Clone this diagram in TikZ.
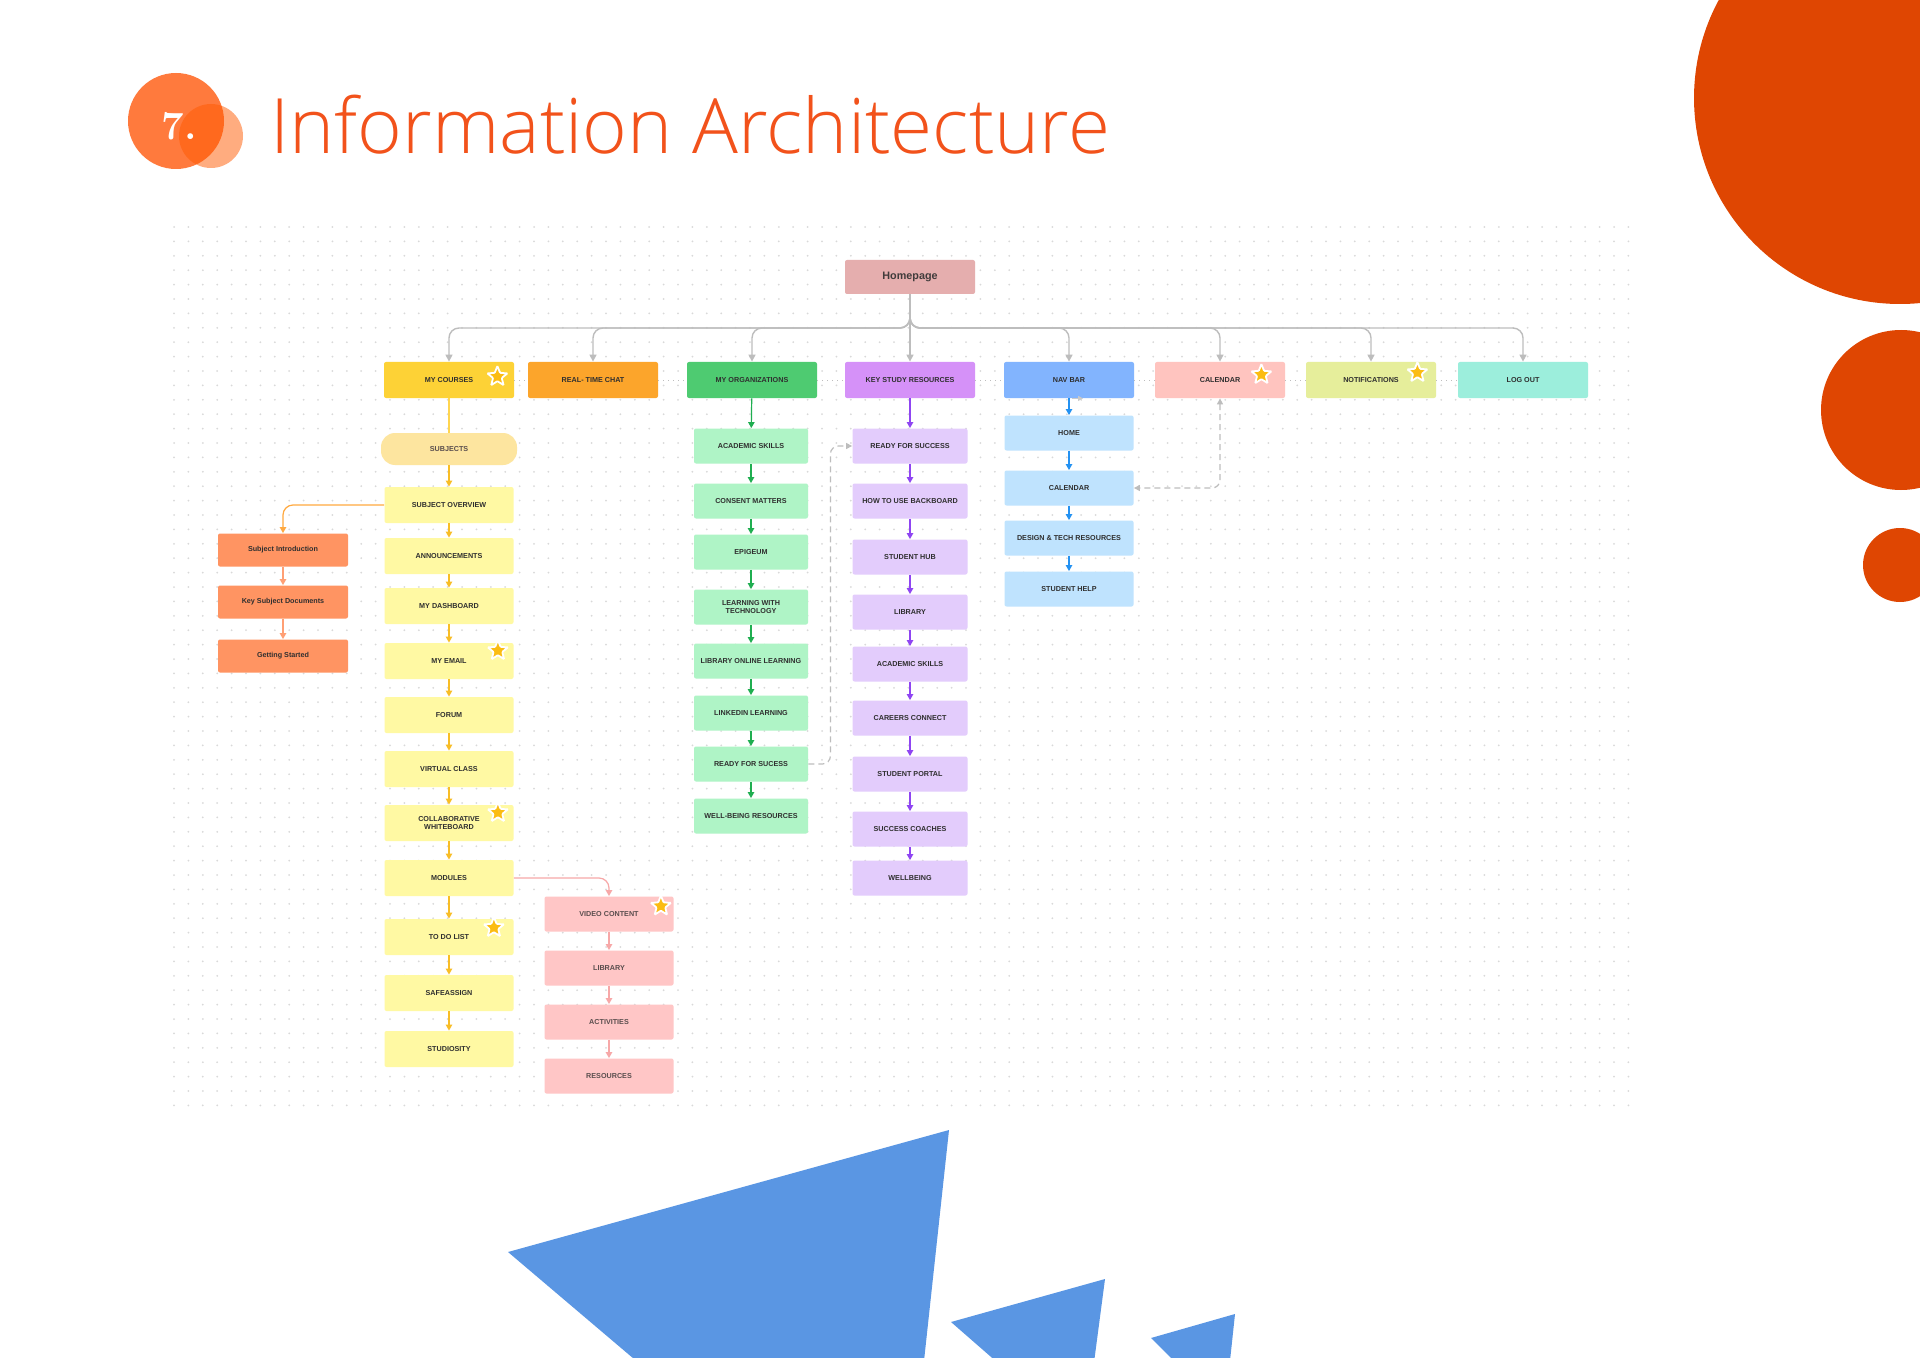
\documentclass[tikz,border=0pt]{standalone}
\usepackage{fontspec}
\newfontfamily\uifont{Liberation Sans}
\newfontfamily\titlefont{Open Sans Light}
\usetikzlibrary{arrows.meta,calc,shapes.geometric}
\definecolor{TitleOrange}{HTML}{F2521B}
\definecolor{BadgeOrange}{HTML}{FF7A3D}
\definecolor{BadgeDeep}{HTML}{FF5A00}
\definecolor{BlobRed}{HTML}{DF4602}
\definecolor{SailBlue}{HTML}{5A96E3}
\definecolor{BoardDot}{HTML}{D9D9D9}
\definecolor{Ink}{HTML}{2F2F2F}
\definecolor{SoftInk}{HTML}{5A4E4E}
\definecolor{LinkGrey}{HTML}{BDBDBD}
\definecolor{HomeRose}{HTML}{E5AEAE}
\definecolor{CourseGold}{HTML}{FDD236}
\definecolor{ChatOrange}{HTML}{FCA52B}
\definecolor{OrgGreen}{HTML}{4ECB71}
\definecolor{StudyViolet}{HTML}{D591F8}
\definecolor{NavBlue}{HTML}{82B4FE}
\definecolor{CalPink}{HTML}{FFC4BF}
\definecolor{NotifLime}{HTML}{E6EE9B}
\definecolor{LogoutMint}{HTML}{9CEEDC}
\definecolor{SubjectSand}{HTML}{FDE59F}
\definecolor{PaleYellow}{HTML}{FFF9A3}
\definecolor{Salmon}{HTML}{FF9462}
\definecolor{PalePink}{HTML}{FFC6C6}
\definecolor{PaleMint}{HTML}{AFF4C6}
\definecolor{PaleLavender}{HTML}{E3CCFC}
\definecolor{PaleSky}{HTML}{BFE3FE}
\definecolor{StarGold}{HTML}{FBBC12}
\definecolor{ArrowGold}{HTML}{F8BD26}
\definecolor{ArrowSalmon}{HTML}{FF9F74}
\definecolor{ArrowPink}{HTML}{F7A8A8}
\definecolor{ArrowGreen}{HTML}{1FAE50}
\definecolor{ArrowViolet}{HTML}{8F45F2}
\definecolor{ArrowBlue}{HTML}{2492F2}
\definecolor{LineGold}{HTML}{FFD54F}
\definecolor{LineOrange}{HTML}{FFA940}
\newcommand{\boxfont}{\uifont\bfseries\fontsize{3.6}{4.3}\selectfont}

\begin{document}
\begin{tikzpicture}[x=0.5pt,y=-0.5pt,
    box/.style={rounded corners=1pt,minimum height=17.5pt,inner sep=1pt,
      align=center,font=\boxfont,text=Ink},
    topbox/.style={box,minimum width=65pt,minimum height=18pt},
    coursebox/.style={box,fill=PaleYellow,minimum width=64.5pt,minimum height=18pt},
    introbox/.style={box,fill=Salmon,minimum width=65pt,minimum height=16.5pt},
    modbox/.style={box,fill=PalePink,minimum width=64.5pt,text=SoftInk},
    orgbox/.style={box,fill=PaleMint,minimum width=57pt},
    studybox/.style={box,fill=PaleLavender,minimum width=57.5pt},
    navbox/.style={box,fill=PaleSky,minimum width=64.5pt},
    favstar/.style={star,star points=5,star point ratio=2.3,fill=StarGold,draw=white,
      line width=0.9pt,minimum size=10.5pt,inner sep=0pt,rounded corners=0.4pt},
    tree/.style={draw=LinkGrey,line width=0.7pt,rounded corners=5pt,
      -{Triangle[length=3.5pt,width=3.5pt]}},
    rowlink/.style={draw=LinkGrey,line width=0.5pt,dotted},
    dashlink/.style={draw=LinkGrey,line width=0.6pt,dash pattern=on 3pt off 2pt,
      rounded corners=4pt,-{Triangle[length=3pt,width=3pt]}},
    colarrow/.style={line width=0.6pt,-{Triangle[length=3pt,width=3.2pt]}},
    boarddots/.style={draw=BoardDot,line width=1pt,line cap=round,
      dash pattern=on 0pt off 7.2pt}]
  \useasboundingbox (0,0) rectangle (1920,1358);
  \clip (0,0) rectangle (1920,1358);
  \fill[white] (0,0) rectangle (1920,1358);

  % dotted board
  \foreach \r in {0,...,61}
    \draw[boarddots] (174,{227+14.4*\r}) -- (1640,{227+14.4*\r});

  % page decoration
  \fill[BlobRed] (1900,98) circle [radius=103pt];
  \fill[BlobRed] (1901,410) circle [radius=40pt];
  \fill[BlobRed] (1900,565) circle [radius=18.5pt];
  \fill[SailBlue] (508,1252) -- (949,1130) -- (923,1370) -- (647,1370) -- cycle;
  \fill[SailBlue] (951,1322) -- (1105,1279) -- (1093,1370) -- (1006,1370) -- cycle;
  \fill[SailBlue] (1151,1338) -- (1235,1314) -- (1229,1370) -- (1183,1370) -- cycle;

  % heading
  \fill[BadgeOrange] (176,121) circle [radius=24pt];
  \fill[BadgeDeep,fill opacity=0.5] (211,136) circle [radius=16pt];
  \node[font=\rmfamily\bfseries\fontsize{20}{24}\selectfont,text=white] (badge) at (179,126) {7.};
  \node[anchor=base west,inner sep=0pt,text=TitleOrange,
    font=\titlefont\fontsize{38.2}{42}\selectfont] (title) at (270,154) {Information Architecture};

  % top level
  \node[box,fill=HomeRose,minimum width=65pt,minimum height=17pt,text=Ink!90!HomeRose,
    font=\uifont\bfseries\fontsize{5.4}{6}\selectfont] (home) at (910,277) {Homepage};
  \node[topbox,fill=CourseGold] (courses) at (449,380) {MY COURSES};
  \node[topbox,fill=ChatOrange] (chat) at (593,380) {REAL- TIME CHAT};
  \node[topbox,fill=OrgGreen] (org) at (752,380) {MY ORGANIZATIONS};
  \node[topbox,fill=StudyViolet] (study) at (910,380) {KEY STUDY RESOURCES};
  \node[topbox,fill=NavBlue] (navbar) at (1069,380) {NAV BAR};
  \node[topbox,fill=CalPink] (cal) at (1220,380) {CALENDAR};
  \node[topbox,fill=NotifLime] (notif) at (1371,380) {NOTIFICATIONS};
  \node[topbox,fill=LogoutMint] (logout) at (1523,380) {LOG OUT};

  % my courses
  \node[box,fill=SubjectSand,minimum width=68pt,minimum height=16pt,rounded corners=7pt,
    text=SoftInk] (subjects) at (449,449) {SUBJECTS};
  \node[coursebox] (overview) at (449,505) {SUBJECT OVERVIEW};
  \node[coursebox] (announce) at (449,556) {ANNOUNCEMENTS};
  \node[coursebox] (dashboard) at (449,606) {MY DASHBOARD};
  \node[coursebox] (email) at (449,661) {MY EMAIL};
  \node[coursebox] (forum) at (449,715) {FORUM};
  \node[coursebox] (virtual) at (449,769) {VIRTUAL CLASS};
  \node[coursebox] (collab) at (449,823) {COLLABORATIVE\\WHITEBOARD};
  \node[coursebox] (modules) at (449,878) {MODULES};
  \node[coursebox] (todo) at (449,937) {TO DO LIST};
  \node[coursebox] (safeassign) at (449,993) {SAFEASSIGN};
  \node[coursebox] (studiosity) at (449,1049) {STUDIOSITY};
  \node[introbox] (intro) at (283,550) {Subject Introduction};
  \node[introbox] (keydocs) at (283,602) {Key Subject Documents};
  \node[introbox] (started) at (283,656) {Getting Started};
  \node[modbox] (video) at (609,914) {VIDEO CONTENT};
  \node[modbox] (library) at (609,968) {LIBRARY};
  \node[modbox] (activities) at (609,1022) {ACTIVITIES};
  \node[modbox] (resources) at (609,1076) {RESOURCES};

  % my organizations
  \node[orgbox] (oacad) at (751,446) {ACADEMIC SKILLS};
  \node[orgbox] (consent) at (751,501) {CONSENT MATTERS};
  \node[orgbox] (epigeum) at (751,552) {EPIGEUM};
  \node[orgbox] (learntech) at (751,607) {LEARNING WITH\\TECHNOLOGY};
  \node[orgbox] (libonline) at (751,661) {LIBRARY ONLINE LEARNING};
  \node[orgbox] (linkedin) at (751,713) {LINKEDIN LEARNING};
  \node[orgbox] (oready) at (751,764) {READY FOR SUCESS};
  \node[orgbox] (wellres) at (751,816) {WELL-BEING RESOURCES};

  % key study resources
  \node[studybox] (sready) at (910,446) {READY FOR SUCCESS};
  \node[studybox] (backboard) at (910,501) {HOW TO USE BACKBOARD};
  \node[studybox] (hub) at (910,557) {STUDENT HUB};
  \node[studybox] (slibrary) at (910,612) {LIBRARY};
  \node[studybox] (sacad) at (910,664) {ACADEMIC SKILLS};
  \node[studybox] (careers) at (910,718) {CAREERS CONNECT};
  \node[studybox] (portal) at (910,774) {STUDENT PORTAL};
  \node[studybox] (coaches) at (910,829) {SUCCESS COACHES};
  \node[studybox] (wellbeing) at (910,878) {WELLBEING};

  % nav bar
  \node[navbox] (navhome) at (1069,433) {HOME};
  \node[navbox] (ncal) at (1069,488) {CALENDAR};
  \node[navbox] (design) at (1069,538) {DESIGN \& TECH RESOURCES};
  \node[navbox] (help) at (1069,589) {STUDENT HELP};

  % homepage tree
  \coordinate (bus) at (910,328);
  \foreach \k in {courses,chat,org,navbar,cal,notif,logout}
    \draw[tree] (home.south) -- (bus) -| (\k.north);
  \draw[tree] (home) -- (study);
  \foreach \p/\q in {courses/chat,chat/org,org/study,study/navbar,navbar/cal,cal/notif,notif/logout}
    \draw[rowlink] (\p) -- (\q);

  % columns
  \draw[LineGold,line width=0.7pt] (courses) -- (subjects);
  \foreach \p/\q in {subjects/overview,overview/announce,announce/dashboard,dashboard/email,
      email/forum,forum/virtual,virtual/collab,collab/modules,modules/todo,todo/safeassign,
      safeassign/studiosity}
    \draw[colarrow,ArrowGold] (\p) -- (\q);
  \draw[colarrow,LineOrange,rounded corners=5pt] (overview.west) -| (intro.north);
  \draw[colarrow,ArrowSalmon] (intro) -- (keydocs);
  \draw[colarrow,ArrowSalmon] (keydocs) -- (started);
  \draw[colarrow,ArrowPink,rounded corners=5pt] (modules.east) -| (video.north);
  \foreach \p/\q in {video/library,library/activities,activities/resources}
    \draw[colarrow,ArrowPink] (\p) -- (\q);
  \foreach \p/\q in {org/oacad,oacad/consent,consent/epigeum,epigeum/learntech,
      learntech/libonline,libonline/linkedin,linkedin/oready,oready/wellres}
    \draw[colarrow,ArrowGreen] (\p) -- (\q);
  \foreach \p/\q in {study/sready,sready/backboard,backboard/hub,hub/slibrary,slibrary/sacad,
      sacad/careers,careers/portal,portal/coaches,coaches/wellbeing}
    \draw[colarrow,ArrowViolet] (\p) -- (\q);
  \foreach \p/\q in {navbar/navhome,navhome/ncal,ncal/design,design/help}
    \draw[colarrow,ArrowBlue] (\p) -- (\q);

  % cross links
  \draw[dashlink] (oready.east) -- ++(22,0) |- (sready.west);
  \draw[dashlink,{Triangle[length=3pt,width=3pt]}-{Triangle[length=3pt,width=3pt]}]
    (cal.south) |- (ncal.east);
  \coordinate (navstub) at ([xshift=7pt]navbar.south);
  \draw[LinkGrey!80,line width=0.5pt,-{Triangle[length=2.5pt,width=2.5pt]}]
    ([xshift=1.5pt]navbar.south) -- (navstub);

  % favourites
  \node[favstar] (coursestar) at ([shift={(-17,15)}]courses.north east) {};
  \node[favstar] (calstar) at ([shift={(-24,13)}]cal.north east) {};
  \node[favstar] (notifstar) at ([shift={(-19,11)}]notif.north east) {};
  \node[favstar] (emailstar) at ([shift={(-16,8)}]email.north east) {};
  \node[favstar] (collabstar) at ([shift={(-16,8)}]collab.north east) {};
  \node[favstar] (todostar) at ([shift={(-20,9)}]todo.north east) {};
  \node[favstar] (videostar) at ([shift={(-13,10)}]video.north east) {};
\end{tikzpicture}
\end{document}
